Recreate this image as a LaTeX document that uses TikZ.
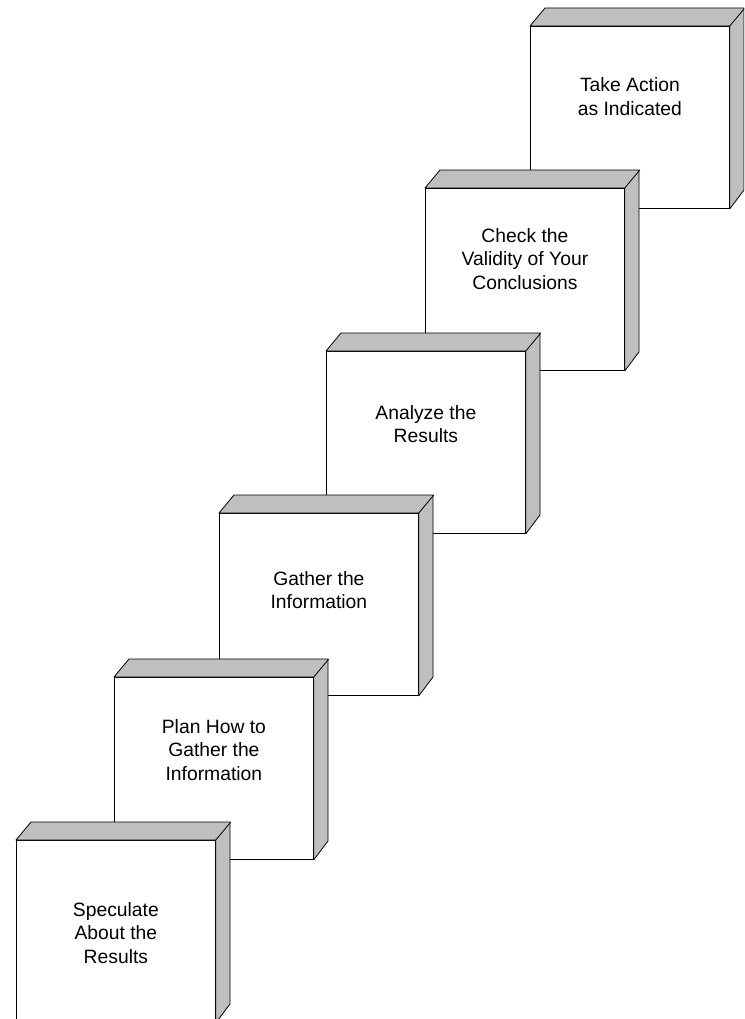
\documentclass[tikz,border=0pt]{standalone}
\usepackage{fontspec}
\setmainfont{Liberation Sans}
\usetikzlibrary{positioning, calc}
\tikzstyle{block} = [rectangle, draw, fill=white, anchor=north west, minimum width=199pt, minimum height=182pt, inner sep=0pt, line width=0.8pt]
\tikzstyle{side} = [draw, fill=black!25, line width=0.8pt, line join=round]
\tikzstyle{caption} = [align=center, inner sep=0pt, font=\fontsize{19.3}{23.8}\selectfont]
\newcommand{\cubesides}[1]{%
	\draw[side] (#1.north west) -- ++(15,-18) -- ++(199,0) -- ++(0,182) -- (#1.south east) -- (#1.north east) -- cycle;
	\draw[line width=0.8pt] (#1.north east) -- ++(15,-18);}

\begin{document}
\begin{tikzpicture}[x=1pt, y=-1pt]
		\clip (0,0) rectangle (744,1019);
		
		\node [block] (take) at (530,26) {};
		\cubesides{take}
		\node [caption] (take-txt) at ([yshift=-71pt]take.north) {Take Action\\as Indicated};
		
		\node [block] (check) at (425,188) {};
		\cubesides{check}
		\node [caption] (check-txt) at ([yshift=-71pt]check.north) {Check the\\Validity of Your\\Conclusions};
		
		\node [block] (analyze) at (326,351) {};
		\cubesides{analyze}
		\node [caption] (analyze-txt) at ([yshift=-73pt]analyze.north) {Analyze the\\Results};
		
		\node [block] (gather) at (219,513) {};
		\cubesides{gather}
		\node [caption] (gather-txt) at ([yshift=-77pt]gather.north) {Gather the\\Information};
		
		\node [block] (plan) at (114,677) {};
		\cubesides{plan}
		\node [caption] (plan-txt) at ([yshift=-73pt]plan.north) {Plan How to\\Gather the\\Information};
		
		\node [block] (speculate) at (16,840) {};
		\cubesides{speculate}
		\node [caption] (speculate-txt) at ([yshift=-93pt]speculate.north) {Speculate\\About the\\Results};
		
	\end{tikzpicture}
\end{document}
